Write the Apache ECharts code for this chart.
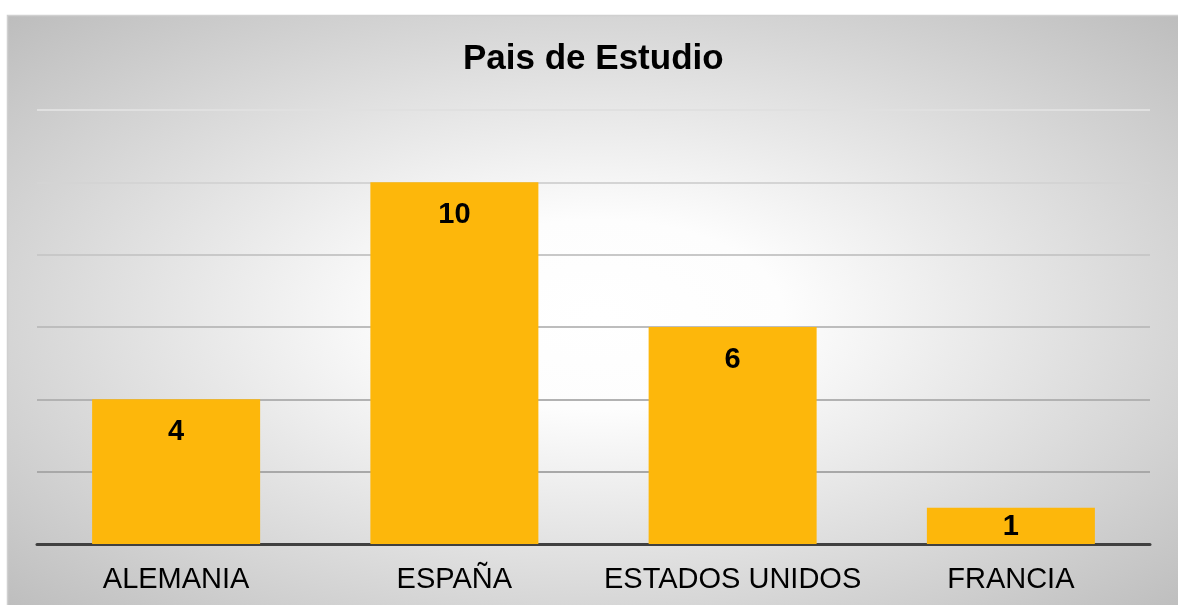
<!DOCTYPE html>
<html>
<head>
<meta charset="utf-8">
<script src="https://cdn.jsdelivr.net/npm/echarts@6/dist/echarts.min.js"></script>
<style>
html,body{margin:0;padding:0;background:#ffffff;}
#chart{width:1178px;height:605px;}
</style>
</head>
<body>
<div id="chart"></div>
<script>
const titleText = 'Pais de Estudio';
const categories = ['ALEMANIA', 'ESPAÑA', 'ESTADOS UNIDOS', 'FRANCIA'];
const values = [4, 10, 6, 1];
const yMin = 0, yMax = 12, yInterval = 2;

const chart = echarts.init(document.getElementById('chart'), null, {renderer: 'canvas'});
const frameW = 1180, frameH = 600;
const seriesData = values.map(function (v) {
  return v < 2 ? {value: v, label: {distance: 5}} : v;
});
chart.setOption({
  animation: false,
  backgroundColor: '#ffffff',
  graphic: [
    {
      type: 'rect', z: -10, silent: true,
      x: 7, y: 15,
      scaleX: frameW / frameH,
      shape: {x: 0, y: 0, width: frameH, height: frameH},
      style: {
        fill: {
          type: 'radial', x: 0.5, y: 0.5, r: 0.72,
          colorStops: [
            {offset: 0, color: '#ffffff'},
            {offset: 0.22, color: '#fdfdfd'},
            {offset: 1, color: '#bbbbbb'}
          ]
        }
      }
    },
    {
      type: 'rect', z: -9, silent: true,
      shape: {x: 7.5, y: 15.5, width: 1180, height: 600},
      style: {fill: 'none', stroke: '#d0d0d0', lineWidth: 1.5}
    }
  ],
  title: {
    text: titleText,
    left: 458,
    top: 37,
    textStyle: {fontFamily: 'Liberation Sans, Arial', fontWeight: 'bold', fontSize: 35, color: '#000000'}
  },
  grid: {left: 37, right: 28, top: 110, bottom: 61, containLabel: false},
  xAxis: {
    type: 'category',
    data: categories,
    axisLine: {show: true, lineStyle: {color: '#404040', width: 3}},
    axisTick: {show: false},
    axisLabel: {interval: 0, fontFamily: 'Liberation Sans, Arial', fontSize: 29, color: '#000000', margin: 21}
  },
  yAxis: {
    type: 'value',
    min: yMin, max: yMax, interval: yInterval,
    axisLine: {show: false},
    axisTick: {show: false},
    axisLabel: {show: false},
    splitLine: {lineStyle: {width: 2, color: ['#999999', '#a8a8a8', '#b2b2b2', '#bdbdbd', '#c8c8c8', '#d4d4d4', '#e0e0e0']}}
  },
  series: [{
    type: 'bar',
    data: seriesData,
    barWidth: 168,
    itemStyle: {color: '#FDB70B'},
    label: {
      show: true,
      position: 'insideTop',
      distance: 18,
      fontFamily: 'Liberation Sans, Arial',
      fontWeight: 'bold',
      fontSize: 29,
      color: '#000000'
    }
  }]
});
</script>
</body>
</html>
